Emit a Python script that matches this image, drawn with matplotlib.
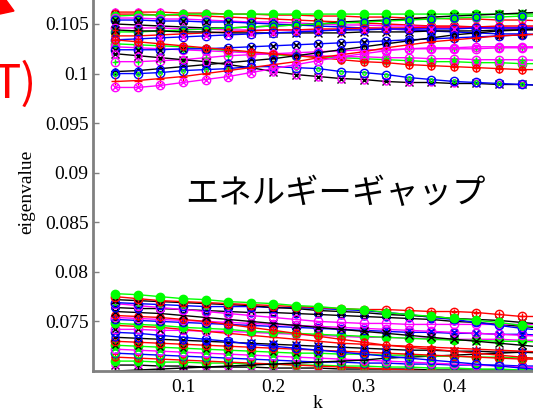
import matplotlib
matplotlib.use('Agg')
import matplotlib.pyplot as plt
from matplotlib.patches import Polygon

# wave number grid
k = [0.025, 0.05, 0.075, 0.1, 0.125, 0.15, 0.175, 0.2, 0.225, 0.25,
     0.275, 0.3, 0.325, 0.35, 0.375, 0.4, 0.425, 0.45, 0.475, 0.5]

# upper band group
u01 = [0.0986, 0.0986, 0.0988, 0.0991, 0.0994, 0.0997, 0.1001, 0.1005, 0.1009, 0.1013,
       0.1017, 0.1020, 0.1023, 0.1025, 0.1026, 0.1026, 0.1027, 0.1027, 0.1027, 0.1027]
u02 = [0.0992, 0.0993, 0.0995, 0.0997, 0.1000, 0.1003, 0.1006, 0.1009, 0.1012, 0.1016,
       0.1019, 0.1022, 0.1026, 0.1029, 0.1032, 0.1034, 0.1036, 0.1038, 0.1039, 0.1040]
u03 = [0.1000, 0.1000, 0.1001, 0.1003, 0.1004, 0.1005, 0.1007, 0.1007, 0.1006, 0.1005,
       0.1002, 0.1001, 0.0999, 0.0996, 0.0994, 0.0992, 0.0991, 0.0990, 0.0989, 0.0988]
u04 = [0.1020, 0.1018, 0.1016, 0.1014, 0.1012, 0.1009, 0.1006, 0.1002, 0.0999, 0.0997,
       0.0995, 0.0994, 0.0992, 0.0991, 0.0991, 0.0990, 0.0990, 0.0989, 0.0989, 0.0988]
u05 = [0.1002, 0.1003, 0.1005, 0.1007, 0.1009, 0.1011, 0.1013, 0.1015, 0.1018, 0.1021,
       0.1024, 0.1027, 0.1030, 0.1033, 0.1036, 0.1039, 0.1041, 0.1043, 0.1044, 0.1046]
u06 = [0.1012, 0.1012, 0.1013, 0.1014, 0.1016, 0.1018, 0.1019, 0.1020, 0.1021, 0.1022,
       0.1023, 0.1024, 0.1024, 0.1025, 0.1025, 0.1025, 0.1025, 0.1026, 0.1026, 0.1026]
u07 = [0.1030, 0.1029, 0.1028, 0.1027, 0.1025, 0.1023, 0.1021, 0.1019, 0.1018, 0.1017,
       0.1016, 0.1015, 0.1014, 0.1013, 0.1012, 0.1012, 0.1011, 0.1011, 0.1010, 0.1010]
u08 = [0.1034, 0.1032, 0.1030, 0.1028, 0.1026, 0.1024, 0.1022, 0.1020, 0.1018, 0.1016,
       0.1014, 0.1012, 0.1011, 0.1009, 0.1008, 0.1007, 0.1006, 0.1005, 0.1004, 0.1004]
u09 = [0.1027, 0.1026, 0.1025, 0.1024, 0.1023, 0.1022, 0.1021, 0.1020, 0.1019, 0.1018,
       0.1017, 0.1017, 0.1016, 0.1016, 0.1015, 0.1015, 0.1014, 0.1014, 0.1014, 0.1013]
u10 = [0.1060, 0.1060, 0.1059, 0.1059, 0.1058, 0.1057, 0.1056, 0.1055, 0.1054, 0.1053,
       0.1052, 0.1051, 0.1050, 0.1049, 0.1048, 0.1048, 0.1047, 0.1047, 0.1046, 0.1046]
u11 = [0.1058, 0.1059, 0.1059, 0.1060, 0.1060, 0.1060, 0.1060, 0.1060, 0.1060, 0.1060,
       0.1060, 0.1060, 0.1060, 0.1060, 0.1060, 0.1060, 0.1060, 0.1060, 0.1060, 0.1060]
u12 = [0.1054, 0.1054, 0.1053, 0.1053, 0.1052, 0.1052, 0.1051, 0.1050, 0.1049, 0.1048,
       0.1047, 0.1046, 0.1045, 0.1044, 0.1043, 0.1042, 0.1041, 0.1040, 0.1040, 0.1039]
u13 = [0.1050, 0.1049, 0.1048, 0.1047, 0.1046, 0.1046, 0.1047, 0.1048, 0.1049, 0.1050,
       0.1052, 0.1053, 0.1054, 0.1055, 0.1057, 0.1058, 0.1059, 0.1060, 0.1061, 0.1062]
u14 = [0.1046, 0.1046, 0.1046, 0.1045, 0.1045, 0.1044, 0.1044, 0.1044, 0.1044, 0.1044,
       0.1044, 0.1045, 0.1045, 0.1045, 0.1046, 0.1046, 0.1046, 0.1046, 0.1047, 0.1047]
u15 = [0.1042, 0.1042, 0.1043, 0.1044, 0.1045, 0.1046, 0.1047, 0.1048, 0.1049, 0.1050,
       0.1051, 0.1052, 0.1053, 0.1054, 0.1055, 0.1056, 0.1057, 0.1057, 0.1058, 0.1058]
u16 = [0.1038, 0.1038, 0.1039, 0.1040, 0.1041, 0.1042, 0.1043, 0.1044, 0.1044, 0.1045,
       0.1045, 0.1046, 0.1046, 0.1046, 0.1047, 0.1047, 0.1047, 0.1048, 0.1048, 0.1048]
u17 = [0.1034, 0.1035, 0.1036, 0.1037, 0.1038, 0.1039, 0.1040, 0.1041, 0.1042, 0.1043,
       0.1044, 0.1044, 0.1045, 0.1045, 0.1045, 0.1045, 0.1046, 0.1046, 0.1046, 0.1046]
u18 = [0.1062, 0.1062, 0.1062, 0.1061, 0.1061, 0.1060, 0.1060, 0.1059, 0.1059, 0.1058,
       0.1058, 0.1057, 0.1057, 0.1056, 0.1056, 0.1055, 0.1055, 0.1054, 0.1054, 0.1053]
u19 = [0.1056, 0.1056, 0.1055, 0.1055, 0.1054, 0.1053, 0.1052, 0.1052, 0.1051, 0.1050,
       0.1049, 0.1049, 0.1048, 0.1048, 0.1047, 0.1047, 0.1046, 0.1046, 0.1045, 0.1045]
u20 = [0.1024, 0.1024, 0.1024, 0.1025, 0.1025, 0.1026, 0.1027, 0.1028, 0.1029, 0.1030,
       0.1031, 0.1032, 0.1033, 0.1034, 0.1035, 0.1036, 0.1037, 0.1038, 0.1039, 0.1040]
u21 = [0.1044, 0.1043, 0.1043, 0.1042, 0.1042, 0.1041, 0.1041, 0.1041, 0.1041, 0.1041,
       0.1041, 0.1042, 0.1042, 0.1042, 0.1043, 0.1043, 0.1043, 0.1044, 0.1044, 0.1044]

# lower band group
l01 = [0.0778, 0.0777, 0.0775, 0.0773, 0.0772, 0.0770, 0.0769, 0.0768, 0.0766, 0.0765,
       0.0763, 0.0762, 0.0759, 0.0757, 0.0755, 0.0753, 0.0751, 0.0749, 0.0746, 0.0744]
l02 = [0.0775, 0.0773, 0.0771, 0.0770, 0.0769, 0.0768, 0.0767, 0.0766, 0.0765, 0.0764,
       0.0763, 0.0762, 0.0762, 0.0761, 0.0760, 0.0760, 0.0759, 0.0757, 0.0755, 0.0755]
l03 = [0.0772, 0.0771, 0.0770, 0.0769, 0.0768, 0.0767, 0.0766, 0.0764, 0.0763, 0.0761,
       0.0760, 0.0759, 0.0757, 0.0756, 0.0755, 0.0753, 0.0752, 0.0751, 0.0749, 0.0747]
l04 = [0.0769, 0.0768, 0.0767, 0.0766, 0.0765, 0.0765, 0.0765, 0.0764, 0.0764, 0.0763,
       0.0762, 0.0761, 0.0759, 0.0757, 0.0754, 0.0752, 0.0749, 0.0746, 0.0743, 0.0741]
l05 = [0.0768, 0.0766, 0.0764, 0.0762, 0.0760, 0.0758, 0.0756, 0.0754, 0.0752, 0.0750,
       0.0749, 0.0748, 0.0748, 0.0747, 0.0747, 0.0747, 0.0747, 0.0747, 0.0747, 0.0747]
l06 = [0.0764, 0.0763, 0.0763, 0.0762, 0.0761, 0.0760, 0.0759, 0.0759, 0.0758, 0.0757,
       0.0756, 0.0755, 0.0754, 0.0753, 0.0752, 0.0750, 0.0749, 0.0747, 0.0745, 0.0743]
l07 = [0.0760, 0.0759, 0.0758, 0.0756, 0.0754, 0.0752, 0.0750, 0.0748, 0.0746, 0.0744,
       0.0742, 0.0740, 0.0738, 0.0736, 0.0734, 0.0732, 0.0730, 0.0728, 0.0726, 0.0724]
l08 = [0.0756, 0.0755, 0.0754, 0.0752, 0.0750, 0.0747, 0.0744, 0.0741, 0.0738, 0.0735,
       0.0732, 0.0729, 0.0726, 0.0724, 0.0722, 0.0720, 0.0718, 0.0716, 0.0714, 0.0712]
l09 = [0.0752, 0.0751, 0.0750, 0.0749, 0.0748, 0.0747, 0.0746, 0.0745, 0.0744, 0.0743,
       0.0742, 0.0741, 0.0740, 0.0739, 0.0739, 0.0738, 0.0738, 0.0737, 0.0737, 0.0736]
l10 = [0.0742, 0.0742, 0.0741, 0.0741, 0.0740, 0.0740, 0.0739, 0.0738, 0.0737, 0.0736,
       0.0735, 0.0734, 0.0734, 0.0733, 0.0733, 0.0732, 0.0732, 0.0732, 0.0731, 0.0731]
l11 = [0.0748, 0.0747, 0.0746, 0.0744, 0.0743, 0.0742, 0.0740, 0.0739, 0.0738, 0.0737,
       0.0736, 0.0735, 0.0734, 0.0733, 0.0732, 0.0731, 0.0731, 0.0730, 0.0730, 0.0729]
l12 = [0.0739, 0.0738, 0.0736, 0.0734, 0.0732, 0.0730, 0.0727, 0.0725, 0.0723, 0.0721,
       0.0719, 0.0717, 0.0715, 0.0713, 0.0711, 0.0709, 0.0707, 0.0705, 0.0703, 0.0701]
l13 = [0.0734, 0.0733, 0.0732, 0.0731, 0.0730, 0.0729, 0.0728, 0.0727, 0.0726, 0.0725,
       0.0724, 0.0723, 0.0722, 0.0721, 0.0721, 0.0720, 0.0720, 0.0719, 0.0719, 0.0718]
l14 = [0.0730, 0.0729, 0.0728, 0.0727, 0.0726, 0.0725, 0.0724, 0.0723, 0.0722, 0.0721,
       0.0720, 0.0719, 0.0718, 0.0717, 0.0716, 0.0715, 0.0714, 0.0713, 0.0712, 0.0712]
l15 = [0.0726, 0.0725, 0.0724, 0.0723, 0.0722, 0.0721, 0.0720, 0.0719, 0.0718, 0.0718,
       0.0717, 0.0717, 0.0716, 0.0716, 0.0715, 0.0715, 0.0714, 0.0714, 0.0713, 0.0713]
l16 = [0.0700, 0.0701, 0.0702, 0.0703, 0.0704, 0.0705, 0.0706, 0.0707, 0.0708, 0.0709,
       0.0710, 0.0711, 0.0713, 0.0714, 0.0715, 0.0716, 0.0717, 0.0718, 0.0719, 0.0720]
l17 = [0.0722, 0.0721, 0.0720, 0.0719, 0.0718, 0.0717, 0.0716, 0.0715, 0.0714, 0.0713,
       0.0712, 0.0711, 0.0710, 0.0709, 0.0708, 0.0707, 0.0706, 0.0705, 0.0704, 0.0703]
l18 = [0.0718, 0.0717, 0.0716, 0.0715, 0.0714, 0.0713, 0.0712, 0.0711, 0.0710, 0.0709,
       0.0709, 0.0708, 0.0708, 0.0707, 0.0707, 0.0706, 0.0706, 0.0706, 0.0705, 0.0705]
l19 = [0.0714, 0.0713, 0.0712, 0.0711, 0.0710, 0.0709, 0.0708, 0.0707, 0.0706, 0.0705,
       0.0704, 0.0703, 0.0702, 0.0701, 0.0700, 0.0699, 0.0698, 0.0697, 0.0696, 0.0695]
l20 = [0.0710, 0.0710, 0.0709, 0.0709, 0.0708, 0.0708, 0.0707, 0.0707, 0.0706, 0.0706,
       0.0705, 0.0705, 0.0704, 0.0704, 0.0703, 0.0703, 0.0702, 0.0702, 0.0701, 0.0701]
l21 = [0.0706, 0.0706, 0.0705, 0.0705, 0.0704, 0.0704, 0.0704, 0.0703, 0.0703, 0.0703,
       0.0702, 0.0702, 0.0702, 0.0702, 0.0701, 0.0701, 0.0701, 0.0701, 0.0700, 0.0700]
l22 = [0.0754, 0.0753, 0.0752, 0.0751, 0.0750, 0.0749, 0.0748, 0.0747, 0.0746, 0.0745,
       0.0744, 0.0743, 0.0742, 0.0741, 0.0740, 0.0739, 0.0738, 0.0737, 0.0736, 0.0735]
l23 = [0.0746, 0.0745, 0.0744, 0.0742, 0.0740, 0.0738, 0.0736, 0.0734, 0.0732, 0.0730,
       0.0728, 0.0727, 0.0726, 0.0725, 0.0724, 0.0723, 0.0722, 0.0721, 0.0720, 0.0719]

R, B, G, M, K = '#ff0000', '#0000ff', '#00ff00', '#ff00ff', '#000000'

# (band, line colour, marker, filled?, overlay colour, overlay marker)
bands = [
    (u18, R, '+', False, M, 'o'), (u10, R, 'o', False, K, 'x'), (u11, G, 'o', True, G, '*'),
    (u19, M, 'o', False, G, '+'), (u12, B, 'o', False, K, 'x'), (u13, K, 'x', False, K, '*'),
    (u14, M, 'o', False, B, 'x'), (u15, G, 'o', True, B, 'o'), (u16, R, '+', False, R, 'o'),
    (u21, K, 'x', False, R, '+'), (u17, B, 'o', False, M, 'x'), (u07, G, 'o', True, M, 'o'),
    (u09, M, 'o', False, G, '+'), (u20, B, 'o', False, K, 'x'), (u06, M, 'o', False, G, '+'),
    (u08, R, '+', False, R, 'o'), (u05, K, '*', False, B, 'o'), (u04, K, 'x', False, M, 'o'),
    (u03, B, 'o', False, G, '.'), (u02, R, '+', False, None, None), (u01, M, 'o', False, M, 'x'),
    (l21, K, 'x', False, M, 'o'), (l20, G, 'o', True, None, None), (l19, R, '+', False, R, 'o'),
    (l18, B, 'o', False, G, 'o'), (l17, M, 'o', False, None, None), (l16, K, '+', False, None, None),
    (l15, G, 'o', True, K, 'x'), (l14, R, 'o', False, R, '+'), (l13, K, 'x', False, B, 'o'),
    (l12, B, 'o', False, None, None), (l10, M, 'o', False, K, 'x'), (l23, R, '+', False, None, None),
    (l11, G, 'o', True, None, None), (l09, B, 'o', False, K, 'x'), (l22, M, 'o', False, B, 'x'),
    (l08, R, '+', False, R, 'o'), (l07, K, 'x', False, None, None), (l06, K, '*', False, B, 'o'),
    (l05, M, 'o', False, None, None), (l04, B, 'o', False, G, '.'), (l03, K, 'x', False, K, '*'),
    (l02, R, 'o', False, R, '+'), (l01, G, 'o', True, None, None),
]

plt.rcParams['font.family'] = 'Liberation Serif'
plt.rcParams['font.size'] = 14

fig = plt.figure(figsize=(5.33, 4.11), dpi=100)
ax = fig.add_axes([0.174, 0.0973, 0.826, 0.9027])

for band, c, m, filled, c2, m2 in bands:
    ax.plot(k, band, color=c, marker=m, markerfacecolor=c if filled else 'none',
            markeredgecolor=c, markersize=6, markeredgewidth=1.0, linewidth=1.0)
    if c2 is not None:
        ax.plot(k, band, linestyle='none', marker=m2, markerfacecolor='none',
                markeredgecolor=c2, color=c2, markersize=5, markeredgewidth=1.0)

ax.set_xlim(0, 0.4876)
ax.set_ylim(0.0700, 0.10742)

ax.set_xticks([0.1, 0.2, 0.3, 0.4])
ax.set_xticklabels(['0.1', '0.2', '0.3', '0.4'])
ax.set_yticks([0.075, 0.08, 0.085, 0.09, 0.095, 0.1, 0.105])
ax.set_yticklabels(['0.075', '0.08', '0.085', '0.09', '0.095', '0.1', '0.105'])
ax.tick_params(direction='in', length=4, width=1, color='#808080', labelsize=14)
ax.tick_params(axis='y', pad=3)
ax.tick_params(axis='x', pad=6)

for side in ['top', 'right']:
    ax.spines[side].set_visible(False)
for side in ['left', 'bottom']:
    ax.spines[side].set_color('#808080')
    ax.spines[side].set_linewidth(2)
    ax.spines[side].set_zorder(5)

fig.text(318 / 533, 1 - 403 / 411, 'k', ha='center', va='center', fontsize=14)
fig.text(27 / 533, 1 - 192 / 411, 'eigenvalue', rotation=90, ha='center', va='center', fontsize=14)

# overlay annotations
fig.text(185 / 533, 1 - 193 / 411, 'エネルギーギャップ', family=['Noto Sans CJK JP', 'DejaVu Sans'],
         fontsize=24, ha='left', va='center', color='black')
fig.text(-8 / 533, 1 - 98 / 411, 'T)', family=['Noto Sans CJK JP', 'DejaVu Sans'],
         fontsize=34, ha='left', va='baseline', color='#ff0000')
tri = Polygon([(0, 1), (6 / 533, 1), (14 / 533, 1 - 11 / 411), (0, 1 - 14 / 411)],
              closed=True, transform=fig.transFigure, color='#ff0000')
fig.patches.append(tri)

fig.savefig('out.png', dpi=100)
